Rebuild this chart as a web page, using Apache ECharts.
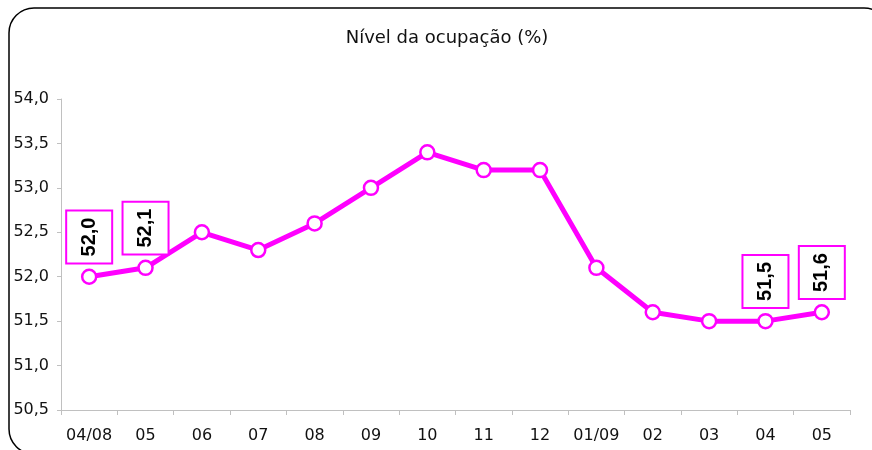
<!DOCTYPE html>
<html lang="pt">
<head>
    <meta charset="UTF-8">
    <title>Nível da ocupação</title>
    <script src="https://cdn.jsdelivr.net/npm/echarts@6/dist/echarts.min.js"></script>
    <style>
        html, body { margin: 0; padding: 0; background: #fff; }
        #main { width: 872px; height: 450px; }
    </style>
</head>
<body>
<div id="main"></div>
<script type="text/javascript">
    var meses = ['04/08', '05', '06', '07', '08', '09', '10', '11', '12', '01/09', '02', '03', '04', '05'];
    var ocupacao = [52.0, 52.1, 52.5, 52.3, 52.6, 53.0, 53.4, 53.2, 53.2, 52.1, 51.6, 51.5, 51.5, 51.6];
    // indices that get a boxed label
    var comRotulo = [0, 1, 12, 13];

    var cor = '#ff00ff';
    var fmt = function (v) { return v.toFixed(1).replace('.', ','); };

    var dados = [];
    for (var i = 0; i < ocupacao.length; i++) {
        dados.push({
            value: ocupacao[i],
            label: { show: comRotulo.indexOf(i) >= 0 }
        });
    }

    var myChart = echarts.init(document.getElementById('main'));
    var option = {
        animation: false,
        title: {
            text: 'Nível da ocupação (%)',
            left: 442,
            textAlign: 'center',
            top: 24,
            textStyle: {
                fontFamily: 'DejaVu Sans',
                fontSize: 18,
                fontWeight: 'normal',
                color: '#111'
            }
        },
        graphic: [{
            type: 'rect',
            shape: { x: 9, y: 8, width: 880, height: 446, r: 25 },
            style: { fill: 'none', stroke: '#000', lineWidth: 1.5 },
            silent: true
        }],
        grid: { left: 61, right: 22, top: 99, bottom: 40 },
        xAxis: {
            type: 'category',
            data: meses,
            boundaryGap: true,
            axisLine: { lineStyle: { color: '#c0c0c0', width: 1 } },
            axisTick: { show: true, length: 5, interval: 0, lineStyle: { color: '#c0c0c0' } },
            axisLabel: {
                interval: 0,
                margin: 18,
                fontFamily: 'DejaVu Sans',
                fontSize: 16,
                color: '#111'
            }
        },
        yAxis: {
            type: 'value',
            min: 50.5,
            max: 54,
            interval: 0.5,
            axisLine: { show: true, lineStyle: { color: '#c0c0c0', width: 1 } },
            axisTick: { show: true, length: 4, lineStyle: { color: '#c0c0c0' } },
            splitLine: { show: false },
            axisLabel: {
                margin: 12,
                fontFamily: 'DejaVu Sans',
                fontSize: 16,
                color: '#111',
                formatter: fmt
            }
        },
        series: [{
            type: 'line',
            data: dados,
            symbol: 'circle',
            symbolSize: 14,
            lineStyle: { color: cor, width: 5 },
            itemStyle: { color: '#fff', borderColor: cor, borderWidth: 2.5 },
            label: {
                position: 'top',
                distance: 6,
                rotate: 90,
                align: 'left',
                verticalAlign: 'middle',
                fontFamily: 'Liberation Sans',
                fontWeight: 'bold',
                fontSize: 20,
                lineHeight: 20,
                color: '#000',
                borderColor: cor,
                borderWidth: 2,
                backgroundColor: '#fff',
                padding: [12, 6, 12, 6],
                formatter: function (p) { return fmt(p.value); }
            }
        }]
    };
    myChart.setOption(option);
</script>
</body>
</html>
